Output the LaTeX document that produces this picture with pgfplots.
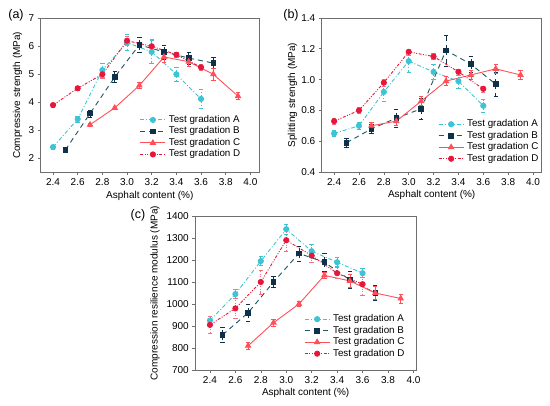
\documentclass[border=0pt]{standalone}
\usepackage{fontspec}
\setmainfont{Liberation Sans}
\usepackage{pgfplots}
\pgfplotsset{compat=1.18}
\definecolor{cA}{RGB}{60,196,212}
\definecolor{cB}{RGB}{14,48,72}
\definecolor{cBl}{RGB}{30,85,95}
\definecolor{cC}{RGB}{255,80,90}
\definecolor{cD}{RGB}{232,22,58}
\definecolor{cDe}{RGB}{245,110,130}
\definecolor{frame}{RGB}{110,110,110}
\pgfplotsset{
  every axis/.append style={font=\fontsize{10}{12}\selectfont},
  base/.style={
    scale only axis, anchor=south west,
    axis line style={frame, line width=0.8pt},
    tick style={frame, line width=0.6pt}, major tick length=3pt,
    tick align=outside, xtick pos=bottom, ytick pos=left,
    /pgf/number format/assume math mode=true,
    xtick={2.4,2.6,2.8,3.0,3.2,3.4,3.6,3.8,4.0},
    xticklabel style={/pgf/number format/.cd,fixed,fixed zerofill,precision=1},
    xlabel={Asphalt content (\%)},
    every axis x label/.style={at={(axis description cs:0.5,0)},anchor=north,yshift=-15pt},
    legend cell align=left,
    legend style={draw=none, fill=none, row sep=0.5pt,
      nodes={inner sep=1pt, text height=7pt, text depth=2pt, font=\fontsize{9.8}{11}\selectfont},
      /tikz/every odd column/.append style={column sep=2pt}},
    legend image code/.code={\draw[mark repeat=2,mark phase=2,##1] plot coordinates {(0pt,0pt) (12.5pt,0pt) (25pt,0pt)};},
    every axis plot/.append style={line width=0.9pt},
    error bars/error bar style={line width=0.7pt},
    error bars/error mark options={rotate=90, mark size=2.2pt, line width=0.7pt},
  },
  sA/.style={color=cA, dash pattern=on 4pt off 2pt on 1pt off 2pt, mark=*, mark size=2.6pt,
    mark options={solid, fill=cA}, error bars/.cd, y dir=both, y explicit},
  sB/.style={color=cBl, dash pattern=on 5pt off 4pt, mark=square*, mark size=2.3pt,
    mark options={solid, fill=cB, draw=cB}, error bars/.cd, y dir=both, y explicit,
    error bar style={color=cB}, error mark options={rotate=90, mark size=2.2pt, color=cB}},
  sC/.style={color=cC, solid, mark=triangle*, mark size=3pt,
    mark options={solid, fill=cC}, error bars/.cd, y dir=both, y explicit},
  sD/.style={color=cD, dash pattern=on 3pt off 1.5pt on 1pt off 1.5pt on 1pt off 1.5pt, mark=*, mark size=2.6pt,
    mark options={solid, fill=cD}, error bars/.cd, y dir=both, y explicit,
    error bar style={color=cDe}, error mark options={rotate=90, mark size=2.2pt, color=cDe}},
}
\begin{document}
\begin{tikzpicture}[x=1pt,y=1pt]
\path[use as bounding box] (0,0) rectangle (550,406);
\node[font=\fontsize{12.5}{14}\selectfont] at (16,391) {(a)};
\node[font=\fontsize{12.5}{14}\selectfont] at (291,391) {(b)};
\node[font=\fontsize{12.5}{14}\selectfont] at (138,191) {(c)};

% (a)
\begin{axis}[base, at={(40.7pt,233.7pt)}, width=218.3pt, height=154pt,
  xmin=2.3, xmax=4.07, ymin=1.5, ymax=7, ytick={2,3,4,5,6,7},
  ylabel={Compressive strength (MPa)},
  every axis y label/.style={at={([xshift=-15pt]axis description cs:0,0.5)},rotate=90,anchor=south},
  legend style={at={(0.44,0.39)},anchor=north west}]
\addplot+[sA] table[x=x,y=y,y error=e] {
x y e
2.4 2.40 0.08
2.6 3.40 0.10
2.8 5.15 0.25
3.0 6.13 0.28
3.2 5.80 0.42
3.4 5.00 0.25
3.6 4.12 0.35
};
\addplot+[sB] table[x=x,y=y,y error=e] {
x y e
2.5 2.30 0.06
2.7 3.60 0.12
2.9 4.90 0.20
3.1 6.05 0.26
3.3 5.80 0.25
3.5 5.58 0.22
3.7 5.40 0.20
};
\addplot+[sC] table[x=x,y=y,y error=e] {
x y e
2.7 3.20 0.05
2.9 3.80 0.06
3.1 4.60 0.10
3.3 5.62 0.20
3.5 5.45 0.15
3.7 5.00 0.20
3.9 4.22 0.12
};
\addplot+[sD] table[x=x,y=y,y error=e] {
x y e
2.4 3.90 0.07
2.6 4.50 0.08
2.8 5.00 0.15
3.0 6.20 0.15
3.2 6.00 0.25
3.4 5.70 0.10
3.6 5.25 0.10
};
\legend{Test gradation A,Test gradation B,Test gradation C,Test gradation D}
\end{axis}

% (b)
\begin{axis}[base, at={(321.7pt,234pt)}, width=220pt, height=154pt,
  xmin=2.3, xmax=4.07, ymin=0.4, ymax=1.4, ytick={0.4,0.6,0.8,1.0,1.2,1.4},
  yticklabel style={/pgf/number format/.cd,fixed,fixed zerofill,precision=1},
  ylabel={Splitting strength (MPa)},
  every axis y label/.style={at={([xshift=-21pt]axis description cs:0,0.5)},rotate=90,anchor=south},
  legend style={at={(0.515,0.36)},anchor=north west}]
\addplot+[sA] table[x=x,y=y,y error=e] {
x y e
2.4 0.65 0.02
2.6 0.70 0.02
2.8 0.92 0.06
3.0 1.12 0.07
3.2 1.05 0.05
3.4 0.99 0.05
3.6 0.83 0.04
};
\addplot+[sB] table[x=x,y=y,y error=e] {
x y e
2.5 0.59 0.03
2.7 0.68 0.03
2.9 0.75 0.06
3.1 0.81 0.07
3.3 1.19 0.10
3.5 1.10 0.05
3.7 0.97 0.08
};
\addplot+[sC] table[x=x,y=y,y error=e] {
x y e
2.7 0.70 0.02
2.9 0.73 0.03
3.1 0.86 0.03
3.3 0.99 0.03
3.5 1.03 0.03
3.7 1.07 0.03
3.9 1.03 0.03
};
\addplot+[sD] table[x=x,y=y,y error=e] {
x y e
2.4 0.73 0.02
2.6 0.80 0.02
2.8 0.98 0.02
3.0 1.18 0.02
3.2 1.15 0.02
3.4 1.05 0.02
3.6 0.94 0.02
};
\legend{Test gradation A,Test gradation B,Test gradation C,Test gradation D}
\end{axis}

% (c)
\begin{axis}[base, at={(195.3pt,36pt)}, width=220.7pt, height=154pt,
  xmin=2.285, xmax=4.02, ymin=700, ymax=1400, ytick={700,800,...,1400},
  yticklabel style={/pgf/number format/.cd,fixed,1000 sep={}},
  ylabel={Compression resilience modulus (MPa)},
  every axis y label/.style={at={([xshift=-32pt]axis description cs:0,0.5)},rotate=90,anchor=south},
  legend style={at={(0.479,0.38)},anchor=north west}]
\addplot+[sA] table[x=x,y=y,y error=e] {
x y e
2.4 925 20
2.6 1045 20
2.8 1195 20
3.0 1340 22
3.2 1240 30
3.4 1190 20
3.6 1140 20
};
\addplot+[sB] table[x=x,y=y,y error=e] {
x y e
2.5 860 35
2.7 960 40
2.9 1100 25
3.1 1230 35
3.3 1190 40
3.5 1110 40
3.7 1050 35
};
\addplot+[sC] table[x=x,y=y,y error=e] {
x y e
2.7 810 15
2.9 915 15
3.1 1000 10
3.3 1130 12
3.5 1105 30
3.7 1050 30
3.9 1025 20
};
\addplot+[sD] table[x=x,y=y,y error=e] {
x y e
2.4 905 40
2.6 980 45
2.8 1100 55
3.0 1290 50
3.2 1220 30
3.4 1140 25
3.6 1090 50
};
\legend{Test gradation A,Test gradation B,Test gradation C,Test gradation D}
\end{axis}
\end{tikzpicture}
\end{document}
